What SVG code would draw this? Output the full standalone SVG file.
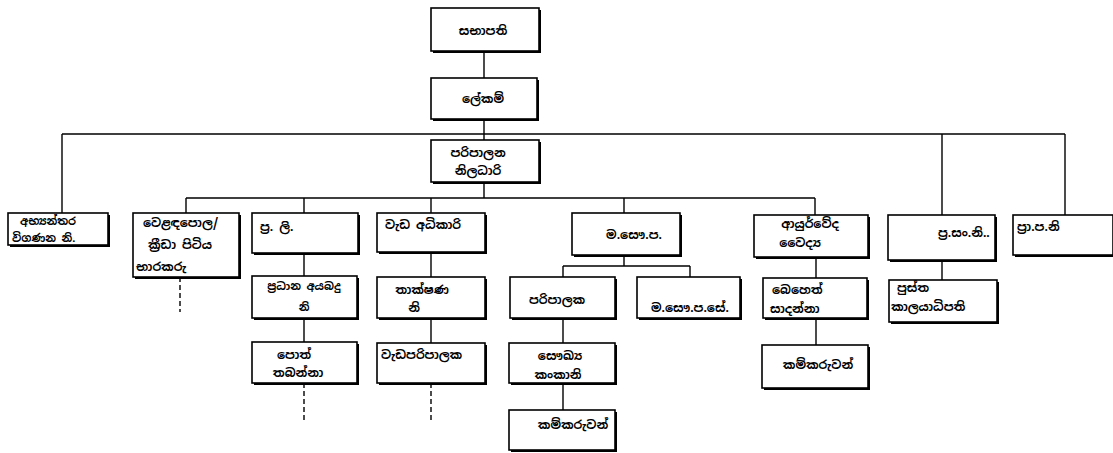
<svg xmlns="http://www.w3.org/2000/svg" width="1113" height="453" viewBox="0 0 1113 453">
<style>
.sh{fill:#000}
.bx{fill:#fff;stroke:#000;stroke-width:1.6}
.t{font-family:"Noto Sans Sinhala","Noto Serif Sinhala","Iskoola Pota","Noto Sans",sans-serif;font-size:12px;font-weight:bold;fill:#000}
.s{font-size:11px}
.c{text-anchor:middle}
.ln{stroke:#000;stroke-width:1.4;fill:none}
.ds{stroke:#000;stroke-width:1.4;fill:none;stroke-dasharray:5 3}
</style>
<rect width="1113" height="453" fill="#fff"/>
<g id="connectors">
<path class="ln" d="M484 51V78M484 119V140M62 134H1065M62 134V213M942 134V215M1065 134V215"/>
<path class="ln" d="M484 182V198M186 198H815M186 198V213M304 198V213M431 198V213M624 198V213M815 198V215"/>
<path class="ln" d="M304 253V276M304 318V342M431 252V277M431 318V343"/>
<path class="ln" d="M624 255V266M563 266H690M563 266V277M690 266V277M563 318V343M563 383V410"/>
<path class="ln" d="M816 257V278M816 318V345M942 260V280"/>
<path class="ds" d="M180 277V312M304 383V423M431 383V423"/>
</g>
<g id="n-sabhapathi"><rect class="sh" x="433" y="10" width="108" height="43"/><rect class="bx" x="431" y="8" width="108" height="43"/><text class="t c" x="483" y="35">සභාපති</text></g>
<g id="n-lekam"><rect class="sh" x="433" y="80" width="106" height="41"/><rect class="bx" x="431" y="78" width="106" height="41"/><text class="t c" x="483" y="103">ලේකම්</text></g>
<g id="n-paripalana"><rect class="sh" x="433" y="142" width="108" height="42"/><rect class="bx" x="431" y="140" width="108" height="42"/><text class="t c" x="478" y="157">පරිපාලන</text><text class="t c" x="478" y="175">නිලධාරි</text></g>
<g id="n-abhyanthara"><rect class="sh" x="10" y="215" width="100" height="32"/><rect class="bx" x="8" y="213" width="100" height="32"/><text class="t s" x="20" y="225">අභ්‍යන්තර</text><text class="t s" x="12" y="242">විගණන නි.</text></g>
<g id="n-veladapola"><rect class="sh" x="135" y="215" width="106" height="64"/><rect class="bx" x="133" y="213" width="106" height="64"/><text class="t" x="143" y="227">වෙළඳපොල/</text><text class="t" x="148" y="249">ක්‍රීඩා පිටිය</text><text class="t" x="136" y="271">භාරකරු</text></g>
<g id="n-prali"><rect class="sh" x="254" y="215" width="106" height="40"/><rect class="bx" x="252" y="213" width="106" height="40"/><text class="t" x="260" y="231">ප්‍ර. ලි.</text></g>
<g id="n-pradhana-ayabadu"><rect class="sh" x="254" y="278" width="105" height="42"/><rect class="bx" x="252" y="276" width="105" height="42"/><text class="t s c" x="304" y="290">ප්‍රධාන අයබදු</text><text class="t s c" x="304" y="311">නි</text></g>
<g id="n-poth"><rect class="sh" x="254" y="344" width="105" height="41"/><rect class="bx" x="252" y="342" width="105" height="41"/><text class="t c" x="294" y="359">පොත්</text><text class="t c" x="298" y="377">තබන්නා</text></g>
<g id="n-wada"><rect class="sh" x="379" y="215" width="108" height="39"/><rect class="bx" x="377" y="213" width="108" height="39"/><text class="t" x="385" y="229">වැඩ අධිකාරි</text></g>
<g id="n-thakshana"><rect class="sh" x="379" y="279" width="108" height="41"/><rect class="bx" x="377" y="277" width="108" height="41"/><text class="t c" x="422" y="294">තාක්ෂණ</text><text class="t c" x="414" y="312">නි</text></g>
<g id="n-wadaparipalaka"><rect class="sh" x="379" y="345" width="108" height="40"/><rect class="bx" x="377" y="343" width="108" height="40"/><text class="t" x="381" y="359">වැඩපරිපාලක</text></g>
<g id="n-msp"><rect class="sh" x="574" y="215" width="108" height="42"/><rect class="bx" x="572" y="213" width="108" height="42"/><text class="t c" x="634" y="239">ම.සෞ.ප.</text></g>
<g id="n-paripalaka"><rect class="sh" x="512" y="279" width="105" height="41"/><rect class="bx" x="510" y="277" width="105" height="41"/><text class="t c" x="557" y="304">පරිපාලක</text></g>
<g id="n-msps"><rect class="sh" x="639" y="279" width="103" height="41"/><rect class="bx" x="637" y="277" width="103" height="41"/><text class="t" x="651" y="312">ම.සෞ.ප.සේ.</text></g>
<g id="n-saukya"><rect class="sh" x="511" y="345" width="106" height="40"/><rect class="bx" x="509" y="343" width="106" height="40"/><text class="t c" x="560" y="360">සෞඛ්‍ය</text><text class="t c" x="558" y="379">කංකානි</text></g>
<g id="n-kamkaru1"><rect class="sh" x="511" y="412" width="106" height="40"/><rect class="bx" x="509" y="410" width="106" height="40"/><text class="t c" x="573" y="429">කම්කරුවන්</text></g>
<g id="n-ayurveda"><rect class="sh" x="756" y="217" width="114" height="42"/><rect class="bx" x="754" y="215" width="114" height="42"/><text class="t c" x="810" y="228">ආයුර්වේද</text><text class="t c" x="800" y="247">වෛද්‍ය</text></g>
<g id="n-beheth"><rect class="sh" x="765" y="280" width="104" height="40"/><rect class="bx" x="763" y="278" width="104" height="40"/><text class="t" x="772" y="294">බෙහෙත්</text><text class="t" x="770" y="313">සාදන්නා</text></g>
<g id="n-kamkaru2"><rect class="sh" x="764" y="347" width="106" height="43"/><rect class="bx" x="762" y="345" width="106" height="43"/><text class="t c" x="818" y="369">කම්කරුවන්</text></g>
<g id="n-prasani"><rect class="sh" x="890" y="217" width="107" height="45"/><rect class="bx" x="888" y="215" width="107" height="45"/><text class="t" x="938" y="237">ප්‍ර.සං.නි..</text></g>
<g id="n-pusthakala"><rect class="sh" x="891" y="282" width="108" height="42"/><rect class="bx" x="889" y="280" width="108" height="42"/><text class="t" x="897" y="292">පුස්ත</text><text class="t" x="891" y="311">කාලයාධිපති</text></g>
<g id="n-prapani"><rect class="sh" x="1015" y="217" width="100" height="40"/><rect class="bx" x="1013" y="215" width="100" height="40"/><text class="t" x="1017" y="231">ප්‍රා.ප.නි</text></g>
</svg>
